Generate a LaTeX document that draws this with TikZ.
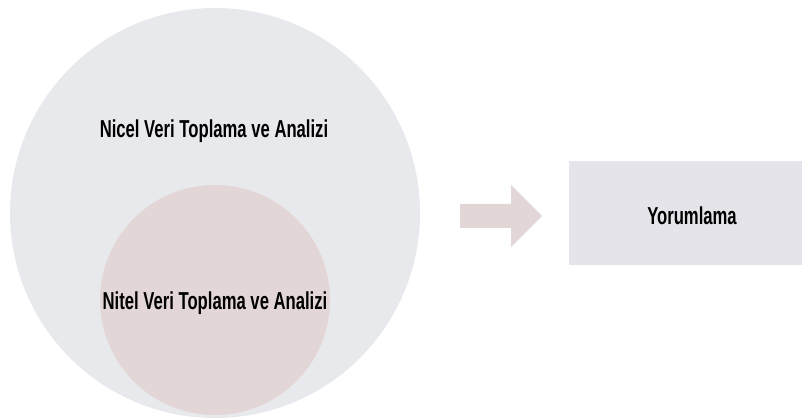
\documentclass[tikz,border=0pt]{standalone}
\usepackage{fontspec}
\setmainfont[FakeStretch=0.68]{Liberation Sans}
\definecolor{bigc}{HTML}{E8E9ED}
\definecolor{smallc}{HTML}{E3D6D6}
\definecolor{boxc}{HTML}{E4E4EA}
\tikzset{
  lbl/.style={font=\fontsize{24.5}{26}\selectfont\bfseries, text=black, inner sep=0pt},
}
\begin{document}
\begin{tikzpicture}[x=1pt,y=-1pt]
\useasboundingbox (0,0) rectangle (802,419);
\fill[bigc] (215,213) circle (205);
\fill[smallc] (215,300) circle (115);
\node[lbl] (nicel) at (214,131) {Nicel Veri Toplama ve Analizi};
\node[lbl] (nitel) at (215,303) {Nitel Veri Toplama ve Analizi};
\fill[smallc] (460,204) -- (511,204) -- (511,185) -- (542,216) -- (511,247) -- (511,228) -- (460,228) -- cycle;
\fill[boxc] (569,161) rectangle (802,265);
\node[lbl] (yorum) at (692,216) {Yorumlama};
\end{tikzpicture}
\end{document}
